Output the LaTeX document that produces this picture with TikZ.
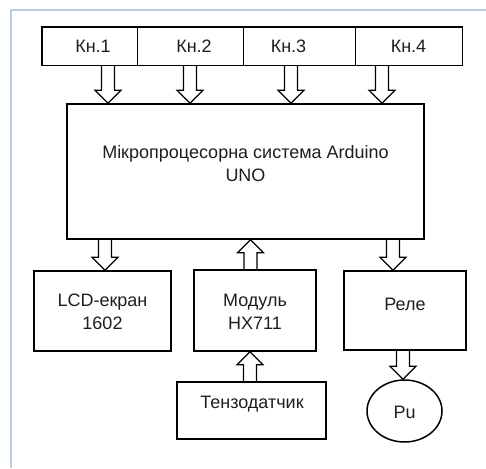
\documentclass[tikz,border=0pt]{standalone}
\usepackage{fontspec}
\setmainfont{Liberation Sans}
\usetikzlibrary{calc,shapes.geometric}
\definecolor{frameblue}{RGB}{184,204,228}
\definecolor{ink}{RGB}{30,30,30}
\tikzset{
  box/.style={draw=black, line width=1.5pt, rectangle, inner sep=0pt},
  cell/.style={draw=black, line width=0.8pt, rectangle, inner sep=0pt, minimum height=38pt},
  txt/.style={text=ink, font=\fontsize{18}{23}\selectfont, align=center, inner sep=0pt},
  fat/.style={draw=black, line width=1.2pt, line join=miter},
}
\newcommand\fatarrow[2]{%
  \draw[fat] let \p1=(#1), \p2=(#2), \n1={sign(\y2-\y1)} in
    (\x1-6.5pt,\y1) -- (\x1-6.5pt,{\y2-\n1*13pt}) -- (\x1-13pt,{\y2-\n1*13pt})
    -- (\x1,\y2) -- (\x1+13pt,{\y2-\n1*13pt}) -- (\x1+6.5pt,{\y2-\n1*13pt})
    -- (\x1+6.5pt,\y1);}
\begin{document}
\begin{tikzpicture}[x=1pt, y=-1pt]
\useasboundingbox (0,0) rectangle (486,468);
% light blue frame
\draw[frameblue, line width=2pt] (10.5,468) -- (10.5,10.5) -- (486,10.5);
% button bar
\node[cell, minimum width=95pt] (k1) at (89.5,46) {};
\node[cell, minimum width=106pt] (k2) at (190,46) {};
\node[cell, minimum width=112pt] (k3) at (299,46) {};
\node[cell, minimum width=107pt] (k4) at (408.5,46) {};
\draw[line width=1.5pt] (k1.north west) rectangle (k4.south east);
\node[txt] (k1t) at (93,46) {Кн.1};
\node[txt] (k2t) at (194,46) {Кн.2};
\node[txt] (k3t) at (288.5,46) {Кн.3};
\node[txt] (k4t) at (408.5,46) {Кн.4};
% main
\node[box, minimum width=357pt, minimum height=135pt] (main) at (245.5,171.5) {};
\node[txt] (maint) at (245.5,164) {Мікропроцесорна система Arduino\\UNO};
% bottom row
\node[box, minimum width=137pt, minimum height=80pt] (lcd) at (102.5,311) {};
\node[txt] (lcdt) at (102.5,312) {LCD-екран\\1602};
\node[box, minimum width=122pt, minimum height=81pt] (mod) at (255,310.5) {};
\node[txt] (modt) at (255,312) {Модуль\\HX711};
\node[box, minimum width=122pt, minimum height=79pt] (rel) at (405,310.5) {};
\node[txt] (relt) at (405,304) {Реле};
\node[box, minimum width=149pt, minimum height=57pt] (ten) at (251.5,410.5) {};
\node[txt] (tent) at (252,404) {Тензодатчик};
\node[draw=black, line width=1.5pt, ellipse, minimum width=75pt, minimum height=62pt, inner sep=0pt] (pu) at (404.5,411) {};
\node[txt] (put) at (404.5,412) {Pu};
% arrow x positions
\coordinate (a1) at (108,0);
\coordinate (a2) at (190,0);
\coordinate (a3) at (291,0);
\coordinate (a4) at (382,0);
\coordinate (b1) at (105,0);
\coordinate (b2) at (250.5,0);
\coordinate (b3) at (393,0);
\coordinate (c1) at (250,0);
\coordinate (c2) at (403,0);
\fatarrow{a1 |- k1.south}{a1 |- main.north}
\fatarrow{a2 |- k2.south}{a2 |- main.north}
\fatarrow{a3 |- k3.south}{a3 |- main.north}
\fatarrow{a4 |- k4.south}{a4 |- main.north}
\fatarrow{b1 |- main.south}{b1 |- lcd.north}
\fatarrow{b2 |- mod.north}{b2 |- main.south}
\fatarrow{b3 |- main.south}{b3 |- rel.north}
\fatarrow{c1 |- ten.north}{c1 |- mod.south}
\fatarrow{c2 |- rel.south}{c2 |- pu.north}
\end{tikzpicture}
\end{document}
